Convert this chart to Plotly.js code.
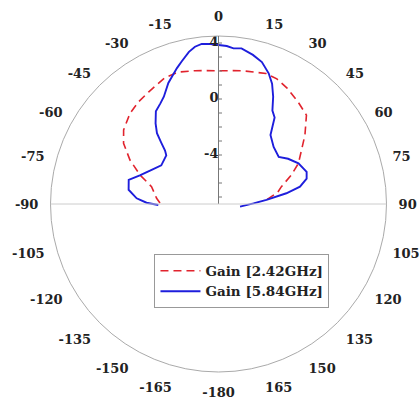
<!DOCTYPE html>
<html>
<head>
<meta charset="utf-8">
<script src="https://cdn.plot.ly/plotly-3.0.1.min.js"></script>
<style>html,body{margin:0;padding:0;background:#fff;}#chart{width:419px;height:401px;}</style>
</head>
<body>
<div id="chart"></div>
<script>
// Angles in degrees (0 at top, clockwise), gain in dB
const thetaLow = [-89, -84.7, -75.5, -69.7, -63.6, -57.4, -52, -44.3, -38, -32, -23, -17, -10, -5, 0, 5, 10, 20, 25, 30.6, 38, 44.7, 51.4, 57, 63, 68.3, 74.6, 79, 85, 88];
const gainLow  = [-3.32, -3.06, -2.56, -1.52, -0.44, 0.55, 1.1, 1.55, 1.77, 1.93, 2.3, 2.35, 2.17, 2.06, 2.02, 2.06, 2.17, 2.42, 2.36, 2.12, 1.74, 1.43, 0.4, -0.43, -1.09, -1.9, -2.84, -3.2, -4.06, -4.3];

const thetaHigh = [-91, -89, -86, -81, -75, -70, -63, -56, -47, -45, -43, -41, -38, -34, -30, -27, -22.5, -17, -14.6, -11, -8.5, -6, -3, 0, 3, 5.5, 8.4, 13, 17, 21, 24, 27, 30, 33, 37, 44, 52, 57, 63, 70, 74, 78, 81, 85, 89, 97];
const gainHigh  = [-3.2, -2.36, -1.64, -1.0, -0.86, -1.52, -2.14, -2.57, -2.4, -2.1, -1.5, -0.8, -0.2, 0.5, 0.8, 1.1, 1.86, 2.65, 3.0, 3.57, 3.86, 4.0, 3.94, 3.86, 3.8, 3.67, 3.74, 3.43, 3.1, 2.5, 1.91, 1.1, 0.2, -0.14, -1.33, -1.83, -2.04, -1.57, -1.09, -0.8, -0.95, -1.55, -2.59, -4.06, -5.0, -5.95];

const angleTicks = [0, 15, 30, 45, 60, 75, 90, 105, 120, 135, 150, 165, 180, 195, 210, 225, 240, 255, 270, 285, 300, 315, 330, 345];
const angleLabels = ['0', '15', '30', '45', '60', '75', '90', '105', '120', '135', '150', '165', '-180', '-165', '-150', '-135', '-120', '-105', '-90', '-75', '-60', '-45', '-30', '-15'];
const radialTicks = [-7, -6, -5, -4, -3, -2, -1, 0, 1, 2, 3, 4];
const radialLabelVals = [-4, 0, 4];
const radialLabels = ['-4', '0', '4'];
const seriesNames = ['Gain [2.42GHz]', 'Gain [5.84GHz]'];

const fontFam = 'DejaVu Serif, serif';

const traces = [
  {type: 'scatterpolar', mode: 'lines', r: gainLow, theta: thetaLow, name: seriesNames[0],
   line: {color: 'rgb(225,35,45)', width: 1.6, dash: '8px,5px'}, subplot: 'polar'},
  {type: 'scatterpolar', mode: 'lines', r: gainHigh, theta: thetaHigh, name: seriesNames[1],
   line: {color: 'rgb(30,30,220)', width: 1.9}, subplot: 'polar'},
  {type: 'scatterpolar', mode: 'text', r: radialLabelVals, theta: radialLabelVals.map(() => 0),
   text: radialLabels, textposition: 'middle left', showlegend: false, hoverinfo: 'skip',
   textfont: {family: fontFam, size: 13, color: '#222', weight: 'bold'}, subplot: 'polar', cliponaxis: false},
  {type: 'scatterpolar', mode: 'lines', r: [], theta: [], showlegend: false, hoverinfo: 'skip', subplot: 'polar2'}
];

const layout = {
  width: 419, height: 401,
  margin: {l: 50, r: 32, t: 36, b: 29},
  paper_bgcolor: '#ffffff',
  showlegend: true,
  legend: {
    x: 0.31, y: 0.35, xanchor: 'left', yanchor: 'top',
    bgcolor: '#ffffff', bordercolor: '#999999', borderwidth: 1,
    font: {family: fontFam, size: 13.5, color: '#222', weight: 'bold'},
    itemwidth: 40, tracegroupgap: 0
  },
  polar: {
    domain: {x: [0, 1], y: [0, 1]},
    bgcolor: 'rgba(0,0,0,0)',
    angularaxis: {
      rotation: 90, direction: 'clockwise', thetaunit: 'degrees',
      tickmode: 'array', tickvals: angleTicks, ticktext: angleLabels,
      showgrid: false, showline: true, linecolor: '#aaaaaa', linewidth: 1,
      ticks: 'outside', ticklen: 9, tickcolor: 'rgba(0,0,0,0)',
      tickfont: {family: fontFam, size: 13, color: '#222', weight: 'bold'}
    },
    radialaxis: {
      range: [-7.5, 4.5], angle: 90, side: 'clockwise',
      tickmode: 'array', tickvals: radialTicks, showticklabels: false,
      showgrid: false, showline: true, linecolor: '#777777', linewidth: 1,
      ticks: 'outside', ticklen: 3, tickcolor: '#777777'
    }
  },
  polar2: {
    domain: {x: [0, 1], y: [0, 1]},
    bgcolor: 'rgba(0,0,0,0)',
    angularaxis: {
      rotation: 90, direction: 'clockwise', thetaunit: 'degrees',
      tickmode: 'array', tickvals: [90, 270], showticklabels: false,
      showgrid: true, gridcolor: '#cccccc', gridwidth: 1, showline: false, ticks: ''
    },
    radialaxis: {range: [-7.5, 4.5], visible: false}
  }
};

Plotly.newPlot('chart', traces, layout, {staticPlot: true, displayModeBar: false});
</script>
</body>
</html>
